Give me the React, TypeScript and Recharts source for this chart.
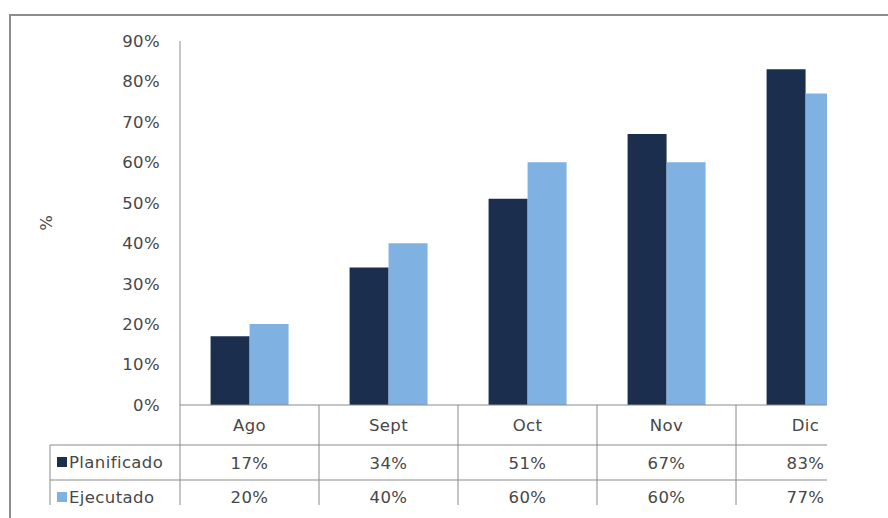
import React from 'react'
import { BarChart, Bar, XAxis, YAxis } from 'recharts'

const months = ['Ago', 'Sept', 'Oct', 'Nov', 'Dic']
const planificado = [17, 34, 51, 67, 83]
const ejecutado = [20, 40, 60, 60, 77]
const yTicks = [0, 10, 20, 30, 40, 50, 60, 70, 80, 90]

const DARK = '#1c2e4e'
const LIGHT = '#7fb1e3'
const TEXT = '#474747'
const LINE = '#8a8a8a'
const FONT = '"DejaVu Sans", sans-serif'
const FS = 16.5

const W = 888
const H = 518
const PLOT_LEFT = 180
const PLOT_RIGHT = 875
const BAND = (PLOT_RIGHT - PLOT_LEFT) / months.length

const data = months.map((m, i) => ({ month: m, planificado: planificado[i], ejecutado: ejecutado[i] }))

function TableTick(props: any) {
  const { x, y, payload } = props
  const i = payload.index
  const left = x - BAND / 2
  const right = x + BAND / 2
  const r1 = y + 40
  const r2 = y + 75
  const bottom = y + 100
  return (
    <g fontFamily={FONT} fontSize={FS} fill={TEXT} letterSpacing={0.4}>
      <line x1={left} y1={y} x2={left} y2={bottom} stroke={LINE} />
      <line x1={left} y1={r1} x2={right} y2={r1} stroke={LINE} />
      <line x1={left} y1={r2} x2={right} y2={r2} stroke={LINE} />
      <text x={x} y={y + 26} textAnchor="middle">{payload.value}</text>
      <text x={x} y={y + 64} textAnchor="middle">{planificado[i]}%</text>
      <text x={x} y={y + 98} textAnchor="middle">{ejecutado[i]}%</text>
      {i === 0 && (
        <g>
          <line x1={50} y1={r1} x2={left} y2={r1} stroke={LINE} />
          <line x1={50} y1={r2} x2={left} y2={r2} stroke={LINE} />
          <line x1={50} y1={r1} x2={50} y2={bottom} stroke={LINE} />
          <rect x={57} y={r1 + 12} width={10} height={10} fill={DARK} />
          <text x={69} y={r1 + 23}>Planificado</text>
          <rect x={57} y={r2 + 12} width={10} height={10} fill={LIGHT} />
          <text x={69} y={r2 + 23}>Ejecutado</text>
        </g>
      )}
    </g>
  )
}

function PercentLabel(props: any) {
  const { viewBox } = props
  const cy = viewBox.y + viewBox.height / 2
  return (
    <text x={46} y={cy} transform={`rotate(-90 46 ${cy})`} textAnchor="middle" dominantBaseline="central"
      fontFamily={FONT} fontSize={FS} fill={TEXT}>%</text>
  )
}

export default function App() {
  return (
    <div style={{ position: 'absolute', left: 0, top: 0, width: W, height: H, background: '#fff', overflow: 'hidden' }}>
      <BarChart width={W} height={H} data={data} barGap={0} barCategoryGap="22%"
        margin={{ top: 41, right: W - PLOT_RIGHT, bottom: 0, left: 0 }}>
        <YAxis domain={[0, 90]} ticks={yTicks} width={PLOT_LEFT} tickSize={0} tickMargin={20}
          axisLine={{ stroke: LINE }} tickLine={false} interval={0}
          tick={{ fontFamily: FONT, fontSize: FS, fill: TEXT, letterSpacing: 0.4 }}
          tickFormatter={(v: number) => `${v}%`}
          label={<PercentLabel />} />
        <XAxis dataKey="month" height={H - 405} tickSize={0} tickMargin={0} interval={0}
          axisLine={{ stroke: LINE }} tickLine={false} tick={<TableTick />} />
        <Bar dataKey="planificado" fill={DARK} isAnimationActive={false} />
        <Bar dataKey="ejecutado" fill={LIGHT} isAnimationActive={false} />
      </BarChart>
      <div style={{ position: 'absolute', left: 827, top: 17, width: W - 827, height: H, background: '#fff' }} />
      <div style={{ position: 'absolute', left: 9, top: 14, width: W, height: H, borderLeft: '2px solid #8c8c8c', borderTop: '2px solid #8c8c8c' }} />
    </div>
  )
}
